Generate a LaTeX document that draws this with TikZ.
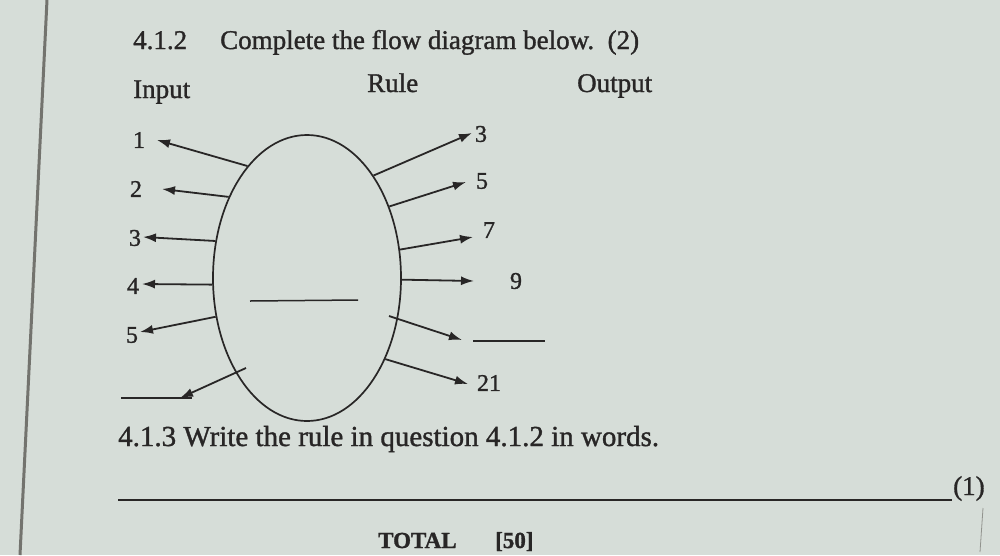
\documentclass[tikz,border=0pt]{standalone}
\usepackage{fontspec}
\setmainfont{Liberation Serif}
\newfontfamily\heavy[FakeBold=1.2]{Liberation Serif}
\usetikzlibrary{arrows.meta,shapes.geometric}
\definecolor{paper}{RGB}{214,221,216}
\definecolor{ink}{RGB}{40,38,38}
\definecolor{edge}{RGB}{115,115,110}
\begin{document}
\begin{tikzpicture}[x=1pt,y=-1pt,
  txt/.style={text=ink,inner sep=0pt,font=\heavy\fontsize{27}{30}\selectfont},
  num/.style={text=ink,inner sep=0pt,font=\heavy\fontsize{24}{26}\selectfont},
  arr/.style={draw=ink,line width=1.8pt,-{Latex[length=13pt,width=9pt]}},
  blank/.style={draw=ink,line width=1.5pt}]
\fill[paper] (0,0) rectangle (1000,555);
\useasboundingbox (0,0) rectangle (1000,555);
% page edge
\draw[edge,line width=3pt] (47,0) coordinate (e1) -- (20,555) coordinate (e2);
% header texts
\node[txt,anchor=base west] (q412) at (133,49) {4.1.2};
\node[txt,anchor=base west] (q412t) at (220,49) {Complete the flow diagram below.\ \ (2)};
\node[txt,anchor=base west] (input) at (133,98) {Input};
\node[txt,anchor=base west] (rulelbl) at (367,92) {Rule};
\node[txt,anchor=base west] (output) at (577,92) {Output};
% ellipse
\node[draw=ink,line width=1.7pt,ellipse,minimum width=188pt,minimum height=286pt,inner sep=0pt] (rule) at (307,278) {};
% input labels
\node[num] (i1) at (139,140) {1};
\node[num] (i2) at (136,189) {2};
\node[num] (i3) at (135,238) {3};
\node[num] (i4) at (133,286) {4};
\node[num] (i5) at (132,335) {5};
% output labels
\node[num] (o3) at (481,134) {3};
\node[num] (o5) at (482,181) {5};
\node[num] (o7) at (489,230) {7};
\node[num] (o9) at (516,281) {9};
\node[num] (o21) at (489,383) {21};
% arrow tips
\coordinate (ti1) at (157,140);
\coordinate (ti2) at (162,189);
\coordinate (ti3) at (143,237);
\coordinate (ti4) at (142,284);
\coordinate (ti5) at (140,332);
\coordinate (ti6) at (180,398);
\coordinate (to3) at (472,133);
\coordinate (to5) at (466,182);
\coordinate (to7) at (473,237);
\coordinate (to9) at (474,281);
\coordinate (tob) at (462,340);
\coordinate (to21) at (468,384);
\coordinate (s6) at (246,368);
\coordinate (sb) at (389,316);
% left arrows
\draw[arr] (rule.118) -- (ti1);
\draw[arr] (rule.134) -- (ti2);
\draw[arr] (rule.158.6) -- (ti3);
\draw[arr] (rule.184.3) -- (ti4);
\draw[arr] (rule.203.6) -- (ti5);
\draw[arr] (s6) -- (ti6);
% right arrows
\draw[arr] (rule.57.7) -- (to3);
\draw[arr] (rule.41.7) -- (to5);
\draw[arr] (rule.17.3) -- (to7);
\draw[arr] (rule.-1.8) -- (to9);
\draw[arr] (sb) -- (tob);
\draw[arr] (rule.-46.8) -- (to21);
% blanks
\coordinate (bl1) at (121,398); \coordinate (bl2) at (192,398);
\draw[blank] (bl1) -- (bl2);
\coordinate (bc1) at (250,301); \coordinate (bc2) at (358,300);
\draw[blank] (bc1) -- (bc2);
\coordinate (br1) at (473,341); \coordinate (br2) at (545,341);
\draw[blank] (br1) -- (br2);
% question 4.1.3
\node[txt,anchor=base west,font=\heavy\fontsize{29}{31}\selectfont] (q413) at (118,446) {4.1.3 Write the rule in question 4.1.2 in words.};
\coordinate (al1) at (118,500); \coordinate (al2) at (952,500);
\draw[blank,line width=1.3pt] (al1) -- (al2);
\node[txt,anchor=base west] (mark1) at (953,495) {(1)};
\draw[edge!70!paper,line width=0.8pt] (983,508) coordinate (m1) -- (980,552) coordinate (m2);
\node[txt,anchor=base west,font=\heavy\bfseries\fontsize{23}{25}\selectfont] (total) at (378,548) {TOTAL};
\node[txt,anchor=base west,font=\heavy\bfseries\fontsize{23}{25}\selectfont] (fifty) at (495,548) {[50]};
\end{tikzpicture}
\end{document}
